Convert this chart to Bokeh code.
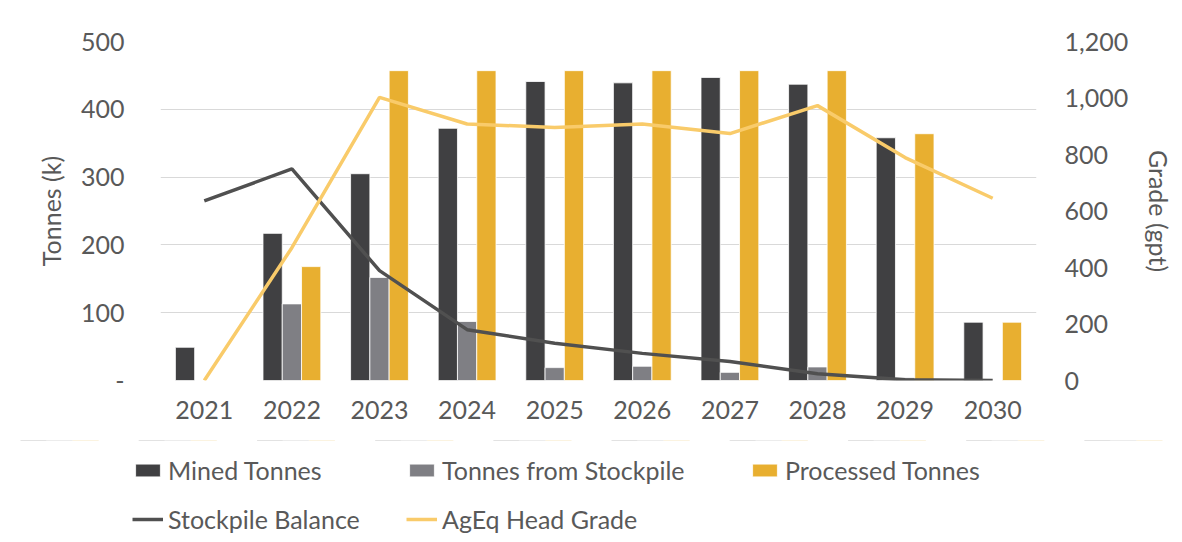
from bokeh.plotting import figure
from bokeh.models import (ColumnDataSource, FactorRange, Range1d, LinearAxis, Legend, LegendItem,
                          FixedTicker, NumeralTickFormatter)
from bokeh.transform import dodge
from bokeh.embed import file_html
from bokeh.resources import INLINE

years = ["2021", "2022", "2023", "2024", "2025", "2026", "2027", "2028", "2029", "2030"]
mined = [49, 217, 305, 372, 441, 439, 447, 437, 358, 86]
from_stockpile = [0, 113, 152, 87, 19, 21, 12, 20, 4, 0]
processed = [0, 168, 457, 457, 457, 457, 457, 457, 364, 86]
stockpile_balance = [265, 312, 162, 75, 55, 40, 28, 10, 1, 0]
head_grade = [0, 470, 1002, 908, 896, 908, 874, 973, 789, 645]
series_names = ["Mined Tonnes", "Tonnes from Stockpile", "Processed Tonnes",
                "Stockpile Balance", "AgEq Head Grade"]

FONT = "Lato"
TXT = "#595959"
C_MINED, C_STOCK, C_PROC = "#404042", "#7f7f84", "#e8af30"
C_BAL, C_GRADE = "#505050", "#f9cb6a"


def draw_series(fig, source):
    bw = 0.22
    rs = [
        fig.vbar(x=dodge("years", -bw, range=fig.x_range), top="mined", width=bw, source=source,
                 fill_color=C_MINED, line_color="white", line_width=0.8),
        fig.vbar(x=dodge("years", 0, range=fig.x_range), top="from_stockpile", width=bw, source=source,
                 fill_color=C_STOCK, line_color="white", line_width=0.8),
        fig.vbar(x=dodge("years", bw, range=fig.x_range), top="processed", width=bw, source=source,
                 fill_color=C_PROC, line_color="white", line_width=0.8),
        fig.line(x="years", y="stockpile_balance", source=source, line_color=C_BAL, line_width=3.5),
        fig.line(x="years", y="head_grade", source=source, line_color=C_GRADE, line_width=3.5,
                 y_range_name="grade"),
    ]
    return rs


def make_source():
    return ColumnDataSource(dict(years=years, mined=mined, from_stockpile=from_stockpile,
                                 processed=processed, stockpile_balance=stockpile_balance,
                                 head_grade=head_grade))


W = 1182
p = figure(x_range=FactorRange(*years), y_range=Range1d(0, 500),
           width=W, height=440, output_backend="svg", toolbar_location=None,
           min_border_left=160, min_border_right=W - 1036, min_border_top=41, min_border_bottom=60)
p.outline_line_color = None
p.extra_y_ranges = {"grade": Range1d(0, 1200)}
draw_series(p, make_source())

# left axis
ya = p.yaxis[0]
ya.ticker = FixedTicker(ticks=[0, 100, 200, 300, 400, 500])
ya.major_label_overrides = {0: "-"}
ya.axis_label = "Tonnes (k)"
ya.major_label_standoff = 30
ya.axis_label_standoff = 12

# right axis
ra = LinearAxis(y_range_name="grade", ticker=FixedTicker(ticks=[0, 200, 400, 600, 800, 1000, 1200]),
                formatter=NumeralTickFormatter(format="0,0"), axis_label="Grade (gpt)")
ra.major_label_standoff = 22
ra.axis_label_standoff = 13
p.add_layout(ra, "right")

xa = p.xaxis[0]
xa.major_label_standoff = 14

for ax in (ya, ra, xa):
    ax.axis_line_color = None
    ax.major_tick_line_color = None
    ax.minor_tick_line_color = None
    ax.major_label_text_font = FONT
    ax.major_label_text_font_size = "25px"
    ax.major_label_text_color = TXT
    ax.axis_label_text_font = FONT
    ax.axis_label_text_font_size = "25px"
    ax.axis_label_text_color = TXT
    ax.axis_label_text_font_style = "normal"

p.xgrid.grid_line_color = None
p.ygrid.grid_line_color = "#d9d9d9"
p.ygrid.grid_line_width = 1.2
p.ygrid.ticker = FixedTicker(ticks=[0, 100, 200, 300, 400, 500])

# legend strip: a second figure whose frame spans the full width; its series lie far outside its view
lf = figure(width=W, height=102, output_backend="svg", toolbar_location=None,
            x_range=FactorRange(*years), y_range=Range1d(-100000, -99000),
            x_axis_type=None, y_axis_type=None,
            min_border_left=0, min_border_right=0, min_border_top=0, min_border_bottom=0)
lf.extra_y_ranges = {"grade": Range1d(-100000, -99000)}
lf.outline_line_color = None
lf.xgrid.grid_line_color = None
lf.ygrid.grid_line_color = None
lr = draw_series(lf, make_source())


def style_legend(lg):
    lg.border_line_color = None
    lg.background_fill_alpha = 0
    lg.label_text_font = FONT
    lg.label_text_font_size = "25px"
    lg.label_text_color = TXT
    lg.glyph_width = 31
    lg.glyph_height = 16
    lg.label_standoff = 5
    lg.label_height = 41
    lg.spacing = 8
    lg.padding = 0
    lg.margin = 0


leg_a = Legend(items=[LegendItem(label=series_names[i], renderers=[lr[i]]) for i in (0, 1, 3, 4)],
               orientation="horizontal", ncols=2)
style_legend(leg_a)
leg_a.label_width = 230
leg_a.location = (132, 3)
lf.add_layout(leg_a, "center")

leg_b = Legend(items=[LegendItem(label=series_names[2], renderers=[lr[2]])])
style_legend(leg_b)
leg_b.location = (749, 52)
lf.add_layout(leg_b, "center")

open("out.html", "w").write(file_html([p, lf], INLINE))
